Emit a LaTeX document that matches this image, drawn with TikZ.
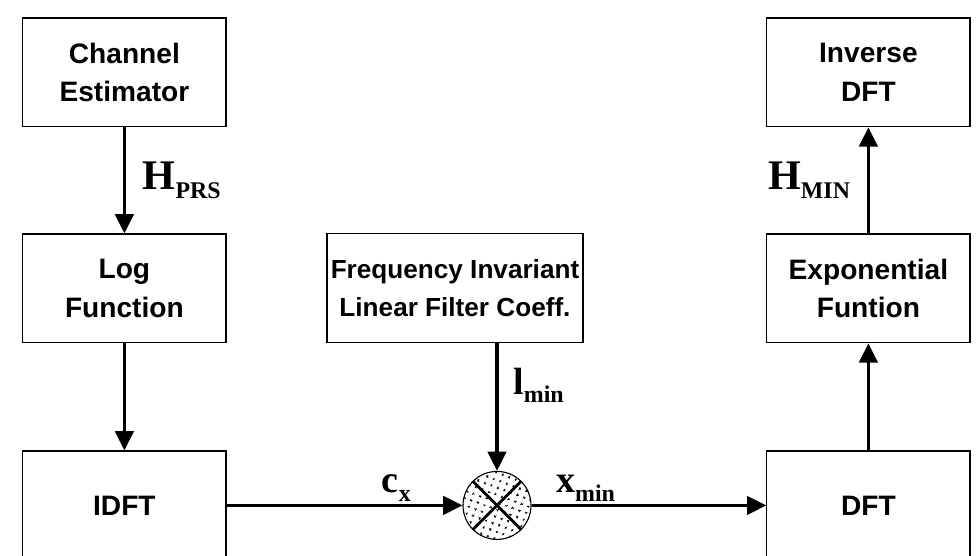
\documentclass[tikz,border=0pt]{standalone}
\usepackage{fontspec}
\setmainfont{Liberation Sans}
\newfontfamily\labelfont{Liberation Serif}
\usetikzlibrary{positioning, calc, arrows.meta, patterns.meta}
\tikzdeclarepattern{
    name=sparse dots,
    type=colored,
    bottom left={(0pt,0pt)},
    top right={(7pt,7pt)},
    tile size={(7pt,7pt)},
    tile transformation={rotate=25},
    code={
        \fill[black] (1.8pt,2.2pt) circle (0.95pt);
        \fill[black] (5.3pt,5.6pt) circle (0.95pt);
    }
}
\tikzset{
    block/.style={draw, line width=0.8pt, minimum width=5.08cm, minimum height=2.72cm, align=center, font=\fontsize{20}{27.5}\selectfont\bfseries},
    wide block/.style={block, minimum width=6.4cm, inner xsep=0pt, font=\fontsize{18.6}{27.5}\selectfont\bfseries},
    mixer/.style={circle, draw, line width=0.8pt, minimum size=1.7cm, inner sep=0pt, pattern=sparse dots},
    flow/.style={line width=2.2pt, -{Triangle[length=0.48cm, width=0.46cm]}},
    sig label/.style={font=\labelfont\bfseries, inner sep=2pt},
}
\newcommand{\sig}[3]{{\fontsize{#1}{#1}\selectfont #2}\raisebox{-6pt}{\fontsize{17}{17}\selectfont #3}}

\begin{document}
\begin{tikzpicture}
    \useasboundingbox (0,0) rectangle (24.45,-13.875);
    % blocks
    \node[block] (est) at (3.11,-1.81) {Channel\\Estimator};
    \node[block] (logf) at (3.11,-7.21) {Log\\Function};
    \node[block] (idft) at (3.11,-12.635) {IDFT};
    \node[wide block] (coeff) at (11.375,-7.2) {Frequency Invariant\\Linear Filter Coeff.};
    \node[mixer] (mix) at (12.425,-12.635) {};
    \draw[line width=2pt] (mix.north west) -- (mix.south east)
        (mix.north east) -- (mix.south west);
    \node[block] (dft) at (21.71,-12.635) {DFT};
    \node[block] (expf) at (21.71,-7.21) {Exponential\\Funtion};
    \node[block] (inv) at (21.71,-1.81) {Inverse\\DFT};
    % signal flow
    \draw[flow] (est) -- node[sig label, right=0.35cm] {\sig{30}{H}{PRS}} (logf);
    \draw[flow] (logf) -- (idft);
    \draw[flow] (idft) -- node[sig label, above, pos=0.72] {\sig{27}{c}{x}} (mix);
    \draw[flow] (mix) -- node[sig label, above, pos=0.23] {\sig{27}{x}{min}} (dft);
    \draw[flow] (coeff.south -| mix) -- node[sig label, right=0.3cm, pos=0.33] {\sig{27}{l}{min}} (mix);
    \draw[flow] (dft) -- (expf);
    \draw[flow] (expf) -- node[sig label, left=0.35cm] {\sig{30}{H}{MIN}} (inv);
\end{tikzpicture}
\end{document}
